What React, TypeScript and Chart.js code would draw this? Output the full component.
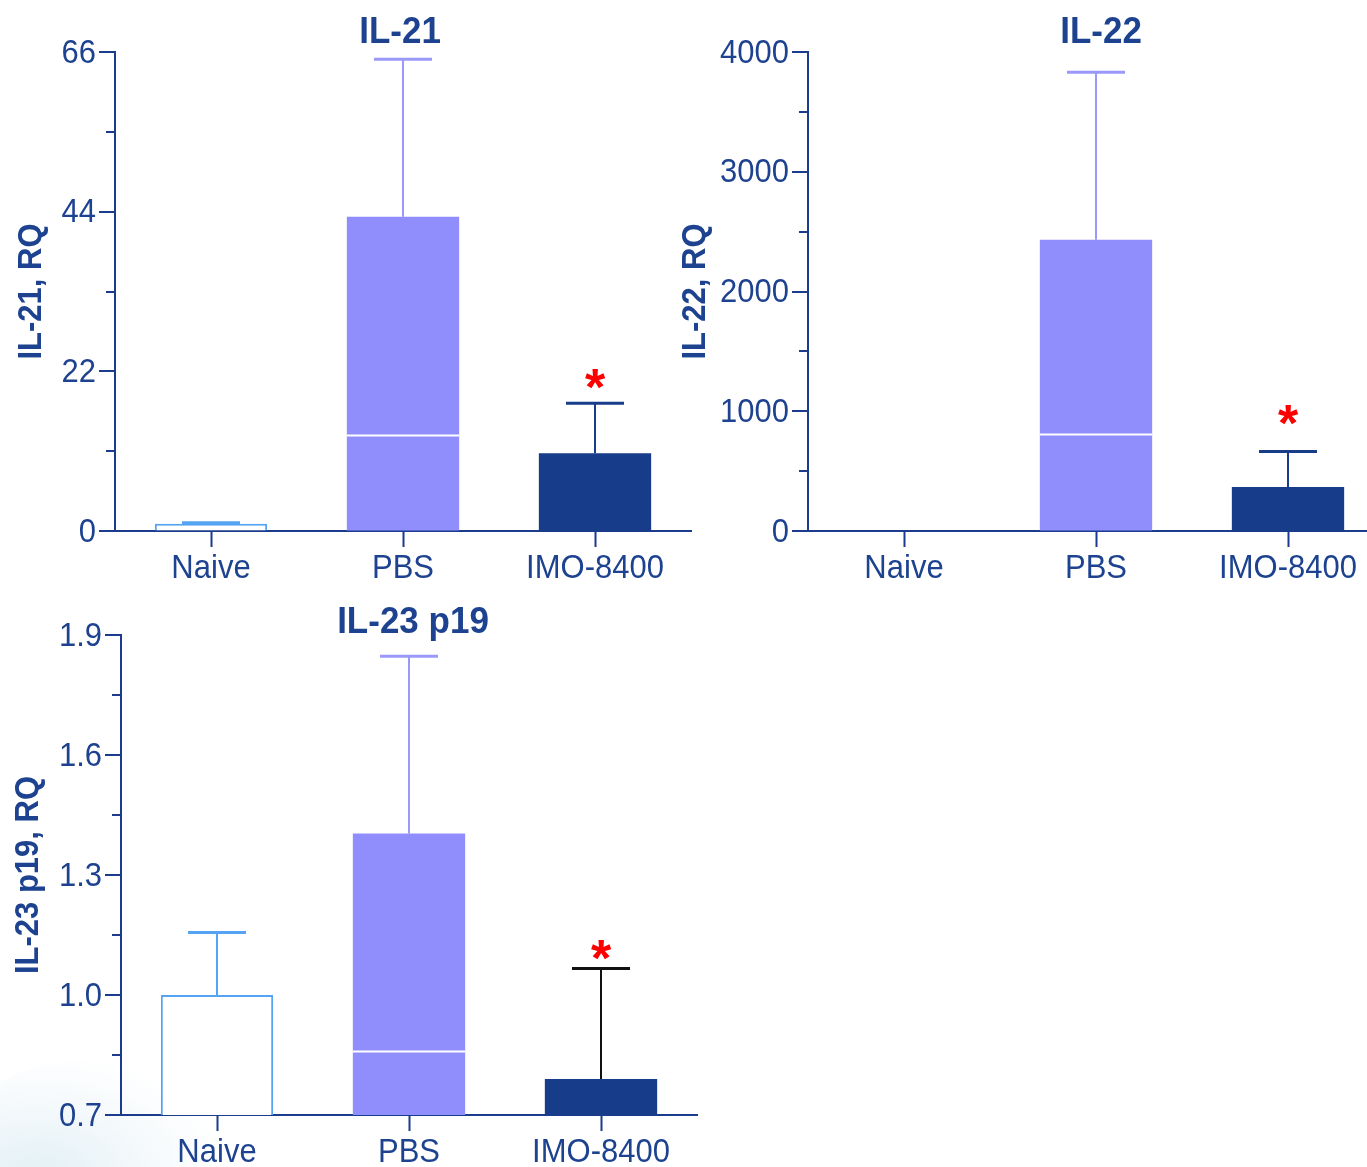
import React, { useEffect, useRef } from 'react';
import { Chart, registerables } from 'chart.js';

Chart.register(...registerables);

// ---------- data ----------
const categories = ['Naive', 'PBS', 'IMO-8400'];

const il21Means = [1.0, 43.3, 10.7];
const il21ErrTop = [1.15, 65.0, 17.6];
const il21InnerLine = [null, 13.2, null];
const il21Sig = [null, null, 20.7];
const il21Ticks = [0, 11, 22, 33, 44, 55, 66];
const il21TickLabels = ['0', '', '22', '', '44', '', '66'];

const il22Means = [1, 2432, 367];
const il22ErrTop = [null, 3831, 663];
const il22InnerLine = [null, 806, null];
const il22Sig = [null, null, 955];
const il22Ticks = [0, 500, 1000, 1500, 2000, 2500, 3000, 3500, 4000];
const il22TickLabels = ['0', '', '1000', '', '2000', '', '3000', '', '4000'];

const il23Means = [1.0, 1.404, 0.79];
const il23ErrTop = [1.156, 1.847, 1.066];
const il23InnerLine = [null, 0.861, null];
const il23Sig = [null, null, 1.108];
const il23Ticks = [0.7, 0.85, 1.0, 1.15, 1.3, 1.45, 1.6, 1.75, 1.9];
const il23TickLabels = ['0.7', '', '1.0', '', '1.3', '', '1.6', '', '1.9'];

// ---------- styles ----------
const FONT = '"Liberation Sans", Arial, Helvetica, sans-serif';
const NAVY = '#1b3c8c';
const TEXT = '#1d4290';
const NAIVE_BORDER = '#55a3f3';
const PBS_FILL = '#8f8efc';
const PBS_ERR = '#9a98f8';
const IMO_FILL = '#163c8a';
const TICK_SIZE = 31;
const STRETCH = 1.1;

type PanelCfg = {
  title: string;
  yTitle: string;
  means: number[];
  errTop: (number | null)[];
  inner: (number | null)[];
  sig: (number | null)[];
  ticks: number[];
  tickLabels: string[];
  errColors: string[];
  naiveBorder: number;
  naiveFill: string;
  width: number;
  height: number;
  area: { left: number; top: number; right: number; bottom: number };
  yTitleX: number;
  titleX: number;
  titleBaseline: number;
};

function stretchedText(
  ctx: CanvasRenderingContext2D,
  text: string,
  x: number,
  y: number,
  font: string,
  align: CanvasTextAlign,
  sy: number
) {
  ctx.save();
  ctx.translate(x, y);
  ctx.scale(1, sy);
  ctx.font = font;
  ctx.textAlign = align;
  ctx.textBaseline = 'alphabetic';
  ctx.fillText(text, 0, 0);
  ctx.restore();
}

function makePlugin(cfg: PanelCfg) {
  return {
    id: 'panelDecor',
    afterDatasetsDraw(chart: any) {
      const ctx = chart.ctx;
      const xs = chart.scales.x;
      const ys = chart.scales.y;
      const meta = chart.getDatasetMeta(0);
      // inner white lines
      cfg.inner.forEach((v, i) => {
        if (v == null) return;
        const bar = meta.data[i];
        const py = Math.round(ys.getPixelForValue(v)) + 0.5;
        ctx.save();
        ctx.strokeStyle = '#ffffff';
        ctx.lineWidth = 2;
        ctx.beginPath();
        ctx.moveTo(bar.x - bar.width / 2, py);
        ctx.lineTo(bar.x + bar.width / 2, py);
        ctx.stroke();
        ctx.restore();
      });
      // error bars (upper only)
      cfg.errTop.forEach((v, i) => {
        if (v == null) return;
        const px = Math.round(xs.getPixelForValue(i));
        const pTop = ys.getPixelForValue(v);
        const pBar = ys.getPixelForValue(cfg.means[i]);
        ctx.save();
        ctx.strokeStyle = cfg.errColors[i];
        ctx.lineWidth = 2;
        ctx.beginPath();
        ctx.moveTo(px, pBar);
        ctx.lineTo(px, pTop);
        ctx.stroke();
        ctx.lineWidth = 3;
        ctx.beginPath();
        ctx.moveTo(px - 29, pTop);
        ctx.lineTo(px + 29, pTop);
        ctx.stroke();
        ctx.restore();
      });
      // significance asterisks
      cfg.sig.forEach((v, i) => {
        if (v == null) return;
        const px = xs.getPixelForValue(i);
        const py = ys.getPixelForValue(v);
        ctx.save();
        ctx.fillStyle = '#ff0000';
        ctx.font = `bold 52px ${FONT}`;
        ctx.textAlign = 'center';
        ctx.textBaseline = 'alphabetic';
        ctx.fillText('*', px, py + 24);
        ctx.restore();
      });
    },
    afterDraw(chart: any) {
      const ctx = chart.ctx;
      const xs = chart.scales.x;
      const ys = chart.scales.y;
      const ca = chart.chartArea;
      // y tick marks: long for labelled, short for minor
      ctx.save();
      ctx.strokeStyle = NAVY;
      ctx.lineWidth = 2;
      cfg.ticks.forEach((t, i) => {
        const py = Math.round(ys.getPixelForValue(t));
        const len = cfg.tickLabels[i] ? 16 : 9;
        ctx.beginPath();
        ctx.moveTo(ca.left - len, py);
        ctx.lineTo(ca.left, py);
        ctx.stroke();
      });
      ctx.restore();

      const tickFont = `${TICK_SIZE}px ${FONT}`;
      const capH = 0.716 * TICK_SIZE * STRETCH;
      ctx.save();
      ctx.fillStyle = TEXT;
      // y tick labels
      ys.ticks.forEach((t: any, i: number) => {
        const label = cfg.tickLabels[i];
        if (!label) return;
        const py = ys.getPixelForValue(t.value);
        stretchedText(ctx, label, ca.left - 19, py - 1.5 + capH / 2, tickFont, 'right', STRETCH);
      });
      // x tick labels
      categories.forEach((c, i) => {
        const px = xs.getPixelForValue(i);
        stretchedText(ctx, c, px, ca.bottom + 23 + capH, tickFont, 'center', STRETCH);
      });
      // chart title
      stretchedText(ctx, cfg.title, cfg.titleX, cfg.titleBaseline, `bold 35px ${FONT}`, 'center', 1.08);
      // y-axis title (rotated)
      ctx.save();
      ctx.translate(cfg.yTitleX, (ca.top + ca.bottom) / 2);
      ctx.rotate(-Math.PI / 2);
      ctx.scale(1, STRETCH);
      ctx.font = `bold 31px ${FONT}`;
      ctx.textAlign = 'center';
      ctx.textBaseline = 'alphabetic';
      ctx.fillText(cfg.yTitle, 0, (0.716 * 31) / 2);
      ctx.restore();
      ctx.restore();
    },
  };
}

function Panel({ cfg, left, top }: { cfg: PanelCfg; left: number; top: number }) {
  const ref = useRef<HTMLCanvasElement | null>(null);
  useEffect(() => {
    if (!ref.current) return;
    const a = cfg.area;
    const chart = new Chart(ref.current, {
      type: 'bar',
      data: {
        labels: categories,
        datasets: [
          {
            data: cfg.means,
            backgroundColor: [cfg.naiveFill, PBS_FILL, IMO_FILL],
            borderColor: [NAIVE_BORDER, PBS_FILL, IMO_FILL],
            borderWidth: [cfg.naiveBorder, 0, 0],
            borderSkipped: 'start',
            categoryPercentage: 1,
            barPercentage: 0.585,
          } as any,
        ],
      },
      options: {
        responsive: false,
        animation: false,
        events: [],
        layout: {
          padding: { left: 0, top: a.top, right: cfg.width - a.right, bottom: 0 },
        },
        plugins: {
          legend: { display: false },
          title: { display: false },
          tooltip: { enabled: false },
        },
        scales: {
          x: {
            type: 'category',
            z: 1,
            grid: {
              display: true,
              drawOnChartArea: false,
              drawTicks: true,
              tickLength: 16,
              tickColor: NAVY,
              tickWidth: 2,
              offset: false,
            },
            border: { display: true, color: NAVY, width: 2 },
            ticks: { display: false, autoSkip: false },
            afterFit: (scale: any) => {
              scale.height = cfg.height - a.bottom;
            },
          },
          y: {
            type: 'linear',
            min: cfg.ticks[0],
            max: cfg.ticks[cfg.ticks.length - 1],
            z: 1,
            grid: {
              display: true,
              drawOnChartArea: false,
              drawTicks: true,
              tickLength: 16,
              tickColor: 'rgba(0,0,0,0)',
            },
            border: { display: true, color: NAVY, width: 2 },
            afterBuildTicks: (scale: any) => {
              scale.ticks = cfg.ticks.map((v) => ({ value: v }));
            },
            ticks: { display: false, autoSkip: false },
            afterFit: (scale: any) => {
              scale.width = a.left;
            },
          },
        },
      },
      plugins: [makePlugin(cfg)],
    });
    return () => chart.destroy();
  }, [cfg]);
  return (
    <canvas
      ref={ref}
      width={cfg.width}
      height={cfg.height}
      style={{ position: 'absolute', left, top, width: cfg.width, height: cfg.height }}
    />
  );
}

const panelA: PanelCfg = {
  title: 'IL-21',
  yTitle: 'IL-21, RQ',
  means: il21Means,
  errTop: il21ErrTop,
  inner: il21InnerLine,
  sig: il21Sig,
  ticks: il21Ticks,
  tickLabels: il21TickLabels,
  errColors: [NAIVE_BORDER, PBS_ERR, IMO_FILL],
  naiveBorder: 2,
  naiveFill: '#ffffff',
  width: 700,
  height: 590,
  area: { left: 115, top: 52, right: 691, bottom: 531 },
  yTitleX: 29,
  titleX: 400,
  titleBaseline: 43,
};

const panelB: PanelCfg = {
  title: 'IL-22',
  yTitle: 'IL-22, RQ',
  means: il22Means,
  errTop: il22ErrTop,
  inner: il22InnerLine,
  sig: il22Sig,
  ticks: il22Ticks,
  tickLabels: il22TickLabels,
  errColors: [NAIVE_BORDER, PBS_ERR, IMO_FILL],
  naiveBorder: 0,
  naiveFill: 'rgba(255,255,255,0)',
  width: 760,
  height: 590,
  area: { left: 168, top: 52, right: 744, bottom: 531 },
  yTitleX: 53,
  titleX: 1101 - 640,
  titleBaseline: 43,
};

const panelC: PanelCfg = {
  title: 'IL-23 p19',
  yTitle: 'IL-23 p19, RQ',
  means: il23Means,
  errTop: il23ErrTop,
  inner: il23InnerLine,
  sig: il23Sig,
  ticks: il23Ticks,
  tickLabels: il23TickLabels,
  errColors: [NAIVE_BORDER, PBS_ERR, '#111111'],
  naiveBorder: 2,
  naiveFill: '#ffffff',
  width: 720,
  height: 577,
  area: { left: 121, top: 45, right: 697, bottom: 525 },
  yTitleX: 26,
  titleX: 413,
  titleBaseline: 43,
};

export default function App() {
  return (
    <div
      style={{
        position: 'absolute',
        left: 0,
        top: 0,
        width: 1367,
        height: 1167,
        overflow: 'hidden',
        background: '#ffffff',
      }}
    >
      <div
        style={{
          position: 'absolute',
          left: -40,
          top: 1060,
          width: 260,
          height: 160,
          borderRadius: '50%',
          background:
            'radial-gradient(ellipse at 30% 70%, rgba(222,238,244,0.85) 0%, rgba(236,244,248,0.5) 45%, rgba(255,255,255,0) 75%)',
        }}
      />
      <Panel cfg={panelA} left={0} top={0} />
      <Panel cfg={panelB} left={640} top={0} />
      <Panel cfg={panelC} left={0} top={590} />
    </div>
  );
}
